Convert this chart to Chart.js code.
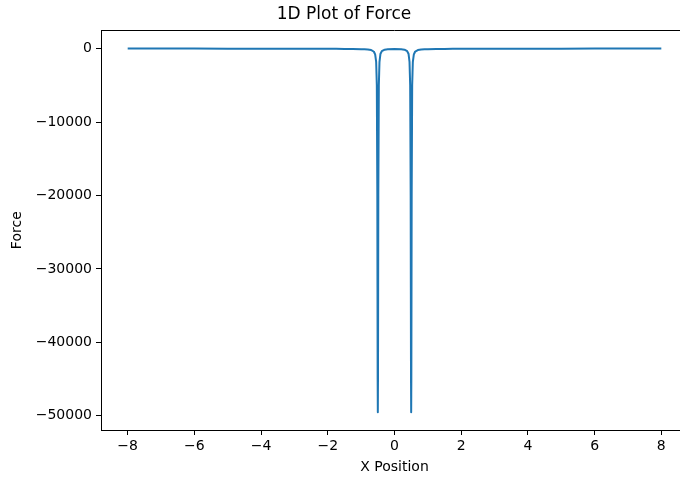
<!DOCTYPE html>
<html>
<head>
<meta charset="utf-8">
<script src="https://cdn.jsdelivr.net/npm/chart.js@4"></script>
<style>
html,body{margin:0;padding:0;overflow:hidden;background:#fff;width:680px;height:480px;}
canvas{display:block;}
</style>
</head>
<body>
<canvas id="c" width="700" height="480" style="width:700px;height:480px"></canvas>
<script>
const chartTitle = "1D Plot of Force";
const xLabel = "X Position";
const yLabel = "Force";
const xTicks = [-8, -6, -4, -2, 0, 2, 4, 6, 8];
const yTicks = [0, -10000, -20000, -30000, -40000, -50000];
const xPositions = [
  -8, -6, -4, -3, -2, -1.5, -1.0, -0.8, -0.7, -0.62, -0.58, -0.55, -0.53, -0.515, -0.505, -0.5,
  -0.495, -0.485, -0.47, -0.45, -0.42, -0.38, -0.3, -0.2, 0,
  0.2, 0.3, 0.38, 0.42, 0.45, 0.47, 0.485, 0.495, 0.5,
  0.505, 0.515, 0.53, 0.55, 0.58, 0.62, 0.7, 0.8, 1.0, 1.5, 2, 3, 4, 6, 8
];
const forceValues = [
  -5, -8, -12, -18, -30, -45, -80, -120, -200, -400, -800, -1800, -5000, -20000, -45000, -49500,
  -45000, -20000, -5000, -1800, -700, -350, -150, -80, -60,
  -80, -150, -350, -700, -1800, -5000, -20000, -45000, -49500,
  -45000, -20000, -5000, -1800, -800, -400, -200, -120, -80, -45, -30, -18, -12, -8, -5
];

const minus = v => String(v).replace('-', '\u2212');
const points = xPositions.map((x, i) => ({x: x, y: forceValues[i]}));

const topSpine = {
  id: 'topSpine',
  afterDraw(chart) {
    const a = chart.chartArea, ctx = chart.ctx;
    const y = Math.round(a.top) + 0.5;
    ctx.save();
    ctx.strokeStyle = '#000';
    ctx.lineWidth = 1;
    ctx.beginPath();
    ctx.moveTo(a.left, y);
    ctx.lineTo(a.right, y);
    ctx.stroke();
    ctx.restore();
  }
};

Chart.defaults.font.family = "'DejaVu Sans', sans-serif";
Chart.defaults.color = '#000';

new Chart(document.getElementById('c'), {
  type: 'scatter',
  data: {
    datasets: [{
      data: points,
      showLine: true,
      borderColor: '#1f77b4',
      backgroundColor: '#1f77b4',
      borderWidth: 2,
      borderJoinStyle: 'round',
      borderCapStyle: 'butt',
      pointRadius: 0,
      tension: 0.000001
    }]
  },
  options: {
    responsive: false,
    animation: false,
    devicePixelRatio: 1,
    layout: {padding: {left: 0, right: 12, top: 0, bottom: 0}},
    plugins: {
      legend: {display: false},
      tooltip: {enabled: false},
      title: {
        display: true,
        text: chartTitle,
        color: '#000',
        font: {size: 17, weight: 'normal'},
        padding: {top: 4, bottom: 6}
      }
    },
    scales: {
      x: {
        type: 'linear',
        min: -8.8, max: 8.8,
        afterBuildTicks: s => { s.ticks = xTicks.map(v => ({value: v})); },
        afterFit: s => { s.height = 50; },
        grid: {drawOnChartArea: false, tickLength: 5, color: '#000', tickColor: '#000'},
        border: {color: '#000'},
        ticks: {font: {size: 14}, padding: 3, callback: v => minus(v), maxRotation: 0},
        title: {display: true, text: xLabel, font: {size: 14}, padding: {top: 1, bottom: 4}}
      },
      y: {
        type: 'linear',
        min: -51933, max: 2473,
        afterBuildTicks: s => { s.ticks = yTicks.map(v => ({value: v})); },
        afterFit: s => { s.width = 101; },
        grid: {drawOnChartArea: false, tickLength: 5, color: '#000', tickColor: '#000'},
        border: {color: '#000'},
        ticks: {font: {size: 14}, padding: 4, callback: v => minus(v)},
        title: {display: true, text: yLabel, font: {size: 14}, padding: {top: 9, bottom: 4}}
      }
    }
  },
  plugins: [topSpine]
});
</script>
</body>
</html>
